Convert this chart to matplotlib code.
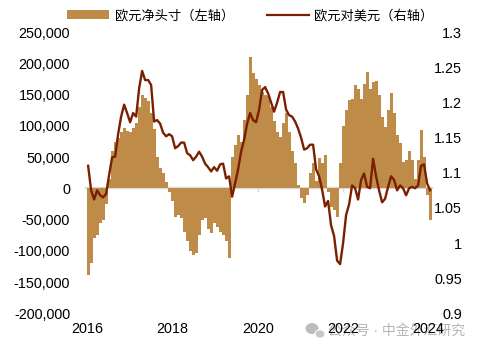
import matplotlib
matplotlib.use("Agg")
import matplotlib.pyplot as plt
import numpy as np
from matplotlib.patches import Patch, Ellipse
from matplotlib.lines import Line2D
from matplotlib.ticker import FuncFormatter, FixedLocator

plt.rcParams['font.family'] = ['Liberation Sans', 'Noto Sans CJK SC', 'DejaVu Sans']

# ---- data ----
start_year = 2016.02
end_year = 2024.045

net_position = [  # EUR net speculative position (contracts), left axis
    -139000, -120000, -80000, -75000, -55000, -50000, -25000, 15000, 60000, 75000,
    80000, 90000, 97000, 92000, 90000, 96000, 104000, 130000, 150000, 145000,
    140000, 120000, 95000, 50000, 32000, 25000, 10000, -5000, -20000, -45000,
    -42000, -48000, -70000, -85000, -100000, -107000, -104000, -75000, -50000, -48000,
    -65000, -72000, -55000, -62000, -70000, -75000, -85000, -112000, 50000, 70000,
    85000, 75000, 110000, 150000, 210000, 185000, 175000, 165000, 155000, 150000,
    148000, 130000, 108000, 90000, 82000, 104000, 120000, 90000, 60000, 40000,
    5000, -15000, -24000, -10000, 24000, 40000, 12000, 48000, 40000, 53000,
    -5000, -30000, -35000, -45000, 40000, 100000, 125000, 141000, 143000, 165000,
    160000, 143000, 167000, 186000, 160000, 170000, 172000, 150000, 115000, 98000,
    125000, 152000, 120000, 85000, 73000, 42000, 45000, 60000, 45000, 15000,
    45000, 94000, 50000, -10000, -50000,
]

eurusd = [  # EUR/USD, right axis
    1.110, 1.075, 1.062, 1.075, 1.068, 1.065, 1.070, 1.097, 1.122, 1.123,
    1.155, 1.180, 1.197, 1.185, 1.172, 1.185, 1.180, 1.220, 1.245, 1.232,
    1.232, 1.225, 1.173, 1.175, 1.170, 1.157, 1.152, 1.155, 1.152, 1.135,
    1.138, 1.143, 1.143, 1.128, 1.125, 1.118, 1.123, 1.130, 1.123, 1.113,
    1.108, 1.102, 1.108, 1.103, 1.112, 1.113, 1.092, 1.095, 1.066, 1.085,
    1.105, 1.130, 1.147, 1.170, 1.185, 1.175, 1.172, 1.190, 1.218, 1.222,
    1.213, 1.200, 1.187, 1.200, 1.215, 1.215, 1.190, 1.182, 1.180, 1.173,
    1.163, 1.150, 1.133, 1.135, 1.140, 1.140, 1.105, 1.095, 1.076, 1.052,
    1.060, 1.025, 1.010, 0.975, 0.970, 1.000, 1.040, 1.055, 1.082, 1.078,
    1.062, 1.090, 1.099, 1.080, 1.078, 1.120, 1.095, 1.075, 1.058, 1.063,
    1.080, 1.095, 1.090, 1.075, 1.082, 1.078, 1.068, 1.078, 1.080, 1.078,
    1.082, 1.110, 1.112, 1.085, 1.075,
]

year_ticks = [2016, 2018, 2020, 2022, 2024]
year_labels = ['2016', '2018', '2020', '2022', '2024']
left_ticks = [-200000, -150000, -100000, -50000, 0, 50000, 100000, 150000, 200000, 250000]
right_ticks = [0.9, 0.95, 1.0, 1.05, 1.1, 1.15, 1.2, 1.25, 1.3]

bar_label = '欧元净头寸（左轴）'
line_label = '欧元对美元（右轴）'
watermark = '公众号 · 中金外汇研究'

BAR_COLOR = '#BF8B48'
LINE_COLOR = '#7A1F00'
GRAY = '#D9D9D9'

# ---- figure ----
W, H = 485, 352
fig = plt.figure(figsize=(W / 100, H / 100), dpi=100)
ax = fig.add_axes([86 / W, 1 - 313.3 / H, 346 / W, 281 / H])
ax.patch.set_visible(False)

t_bar = np.linspace(start_year, end_year, len(net_position))
step = t_bar[1] - t_bar[0]
ax.bar(t_bar, net_position, width=step * 1.02, color=BAR_COLOR, linewidth=0, zorder=2)

ax.set_xlim(2015.97, 2024.09)
ax.set_ylim(-200000, 250000)
ax.yaxis.set_major_locator(FixedLocator(left_ticks))
ax.yaxis.set_major_formatter(FuncFormatter(lambda v, p: f'{int(v):,}'))
ax.set_xticks(year_ticks)
ax.set_xticklabels(year_labels)
ax.tick_params(axis='y', length=0, pad=11.5, labelsize=10.4, colors='black')
ax.tick_params(axis='x', length=0, pad=6, labelsize=10.4)
for s in ax.spines.values():
    s.set_visible(False)

# zero line with small tick marks
sec = ax.secondary_xaxis(200000 / 450000)
sec.set_xticks(year_ticks)
sec.set_xticklabels([])
sec.tick_params(axis='x', length=3, width=1, color=GRAY, direction='out')
for name, s in sec.spines.items():
    s.set_visible(name == 'bottom')
sec.spines['bottom'].set_color(GRAY)
sec.spines['bottom'].set_linewidth(1.6)

ax2 = ax.twinx()
t_line = np.linspace(start_year, end_year, len(eurusd))
ax2.plot(t_line, eurusd, color=LINE_COLOR, linewidth=1.7, zorder=3)
ax2.set_ylim(0.9, 1.3)
ax2.yaxis.set_major_locator(FixedLocator(right_ticks))
ax2.yaxis.set_major_formatter(FuncFormatter(lambda v, p: f'{v:g}'))
ax2.tick_params(axis='y', length=0, pad=21.6, labelsize=10.4)
for lab in ax2.get_yticklabels():
    lab.set_horizontalalignment('right')
for s in ax2.spines.values():
    s.set_visible(False)

handles = [Patch(facecolor=BAR_COLOR, edgecolor='none'),
           Line2D([0], [0], color=LINE_COLOR, linewidth=1.6)]
fig.legend(handles, [bar_label, line_label], loc='center', bbox_to_anchor=(0.516, 1 - 16 / H),
           ncol=2, frameon=False, fontsize=9.5, handlelength=3.2, handleheight=0.7,
           handletextpad=0.4, columnspacing=2.5, borderpad=0)

# watermark (icon + text) behind the axes labels
wm_color = '#BDBDBD'
fig.patches.append(Ellipse((312 / W, 1 - 328.5 / H), 13 / W, 11 / H, transform=fig.transFigure,
                           facecolor=wm_color, edgecolor='none', zorder=-2))
fig.patches.append(Ellipse((320 / W, 1 - 334 / H), 10 / W, 8.5 / H, transform=fig.transFigure,
                           facecolor='#C8C8C8', edgecolor='white', linewidth=0.8, zorder=-2))
fig.text(328 / W, 1 - 331 / H, watermark, fontsize=10, color='#B5B5B5',
         va='center', ha='left', zorder=-1)

fig.savefig('out.png', dpi=100)
